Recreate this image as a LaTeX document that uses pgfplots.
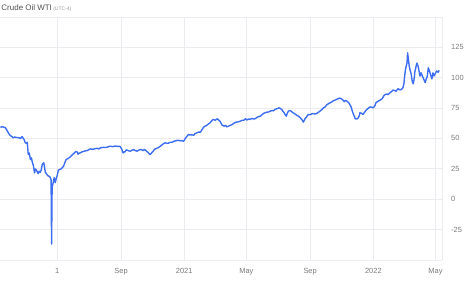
\documentclass[border=0pt]{standalone}
\usepackage{pgfplots}
\pgfplotsset{compat=1.18}
\usepackage{fontspec}
\setmainfont{Liberation Sans}
\definecolor{wti}{RGB}{61,110,242}
\definecolor{gridc}{RGB}{236,236,240}
\definecolor{tickc}{RGB}{122,122,122}
\definecolor{titlec}{RGB}{80,80,80}
\definecolor{subc}{RGB}{150,150,150}

% WTI front-month close; x = days since 2020-01-01
\pgfplotstableread{
day price
11 59.2
14 59.6
17 59.4
21 58.7
24 56.5
26 55.0
28 53.6
30 52.5
33 51.6
36 50.5
39 51.2
42 50.8
46 50.6
50 50.0
53 51.5
55 50.3
57 49.0
59 46.6
61 46.0
63 46.8
65 36.7
67 38.0
69 32.6
71 34.0
73 30.0
75 27.5
77 21.6
79 24.8
80 24.3
82 22.8
84 21.0
86 23.0
88 22.0
90 24.0
92 28.5
95 30.0
96 27.0
98 22.0
100 21.0
102 19.5
105 18.8
107 18.2
109 16.0
110 -37.0
111 10.0
113 13.4
115 17.7
117 13.6
119 17.0
121 19.8
123 23.8
126 24.5
129 25.0
131 26.2
133 27.0
136 30.5
138 32.6
142 33.5
146 34.8
150 36.5
154 38.0
157 39.2
160 38.6
161 37.0
163 37.8
165 38.0
169 39.0
173 39.5
176 39.8
179 40.0
182 40.8
185 41.4
189 41.0
194 41.5
198 41.9
201 41.3
204 42.2
209 42.6
214 42.5
218 42.9
223 43.6
228 43.2
233 43.8
237 43.4
242 43.5
245 41.5
248 38.0
250 38.9
252 39.0
254 40.6
256 40.3
259 39.7
262 39.5
265 40.2
268 40.8
271 40.1
275 39.5
278 40.3
281 40.8
284 40.6
287 40.0
289 40.9
291 40.3
294 39.2
296 38.5
298 37.4
300 36.7
302 37.6
304 38.6
307 40.0
310 41.4
315 42.2
320 43.6
324 45.0
327 45.9
329 46.4
332 46.0
335 46.0
339 46.8
343 46.9
346 47.6
349 48.0
352 48.3
354 48.5
358 48.0
361 48.2
364 47.7
366 48.4
368 50.0
371 51.6
374 53.2
377 52.8
381 53.0
384 52.6
387 54.0
391 54.7
394 55.3
397 55.1
400 57.0
402 58.4
405 60.0
408 60.4
410 61.0
413 62.0
416 62.9
419 64.5
422 65.6
426 65.0
430 66.2
433 64.8
435 64.2
437 62.5
439 61.0
441 60.6
443 60.0
446 60.8
448 59.5
451 60.0
455 60.8
459 61.5
462 62.6
466 63.4
470 63.6
474 64.2
478 65.0
481 64.8
484 66.2
487 65.2
490 66.0
493 65.6
496 66.4
500 66.0
503 66.2
507 67.5
510 68.0
513 68.3
516 69.5
519 70.6
522 71.1
525 71.6
529 71.8
532 72.4
535 73.0
538 72.7
541 73.8
544 74.3
547 74.8
549 75.2
552 74.5
555 73.3
557 72.0
559 71.0
561 69.5
563 68.3
565 70.8
567 72.4
570 73.0
573 72.2
576 71.1
580 70.0
584 68.9
587 68.2
590 67.0
593 65.5
596 63.4
599 66.2
602 67.6
605 69.7
609 69.5
613 70.5
617 70.2
621 70.3
624 71.3
628 72.4
632 74.0
635 75.2
638 76.0
641 77.6
645 78.8
648 79.4
651 80.2
654 81.0
657 81.5
660 82.1
663 82.7
666 83.2
669 82.7
672 81.8
675 80.2
677 81.3
680 80.7
682 80.0
684 79.0
686 77.5
688 76.0
690 73.0
692 70.5
694 68.4
696 66.2
699 66.0
702 67.0
704 69.0
705 71.1
708 70.8
711 69.7
714 71.5
717 73.3
721 74.8
725 76.0
728 75.6
731 75.3
734 77.0
736 79.4
740 80.6
744 81.5
748 82.7
751 85.0
754 86.2
757 86.6
759 86.0
761 86.9
763 87.6
766 88.6
769 89.8
772 89.4
775 88.9
777 90.2
779 90.9
782 90.0
785 90.3
788 91.7
790 95.0
791 100.0
793 106.8
795 110.5
796 112.4
797 120.5
799 114.0
800 110.0
802 106.0
804 103.0
806 97.0
808 95.0
810 100.0
811 104.7
813 108.5
815 112.0
817 110.0
819 106.0
821 101.3
823 104.0
825 102.0
827 100.0
829 98.0
831 95.9
833 99.0
835 101.0
837 108.2
839 106.0
841 103.0
844 99.0
846 104.0
848 101.5
850 103.0
853 105.5
856 104.5
858 106.0
}\wtitable

\begin{document}
\begin{tikzpicture}
\begin{axis}[
  name=ax, at={(0,0)}, anchor=south west,
  scale only axis, width=442bp, height=243bp,
  xmin=11, xmax=863.5, ymin=-50, ymax=150,
  axis line style={draw=none},
  xtick={121,244,366,486,609,731,851},
  xticklabels={1,Sep,2021,May,Sep,2022,May},
  extra x ticks={863.5}, extra x tick labels={},
  ytick={-50,-25,0,25,50,75,100,125,150},
  yticklabels={{},-25,0,25,50,75,100,125,{}},
  yticklabel pos=right,
  grid=major,
  major grid style={draw=gridc, line width=0.6bp},
  major tick length=0pt,
  tick label style={font=\fontsize{7.5}{9}\selectfont, text=tickc},
  yticklabel style={anchor=west, inner sep=0pt, xshift=9bp},
  xticklabel style={anchor=north, inner sep=0pt, yshift=-8bp},
  /pgf/number format/assume math mode=true,
]
\addplot[wti, line width=1.4bp, line join=round, no markers] table[x=day, y=price] {\wtitable};
\end{axis}
\node[anchor=base west, inner sep=0pt, text=titlec, font=\fontsize{8}{9}\selectfont]
  at ([xshift=1bp, yshift=6bp]ax.north west)
  {Crude Oil WTI\,{\fontsize{5}{6}\selectfont\color{subc}(UTC-4)}};
\path ([yshift=-23bp]ax.south west) rectangle ([xshift=33bp, yshift=17bp]ax.north east);
\end{tikzpicture}
\end{document}
